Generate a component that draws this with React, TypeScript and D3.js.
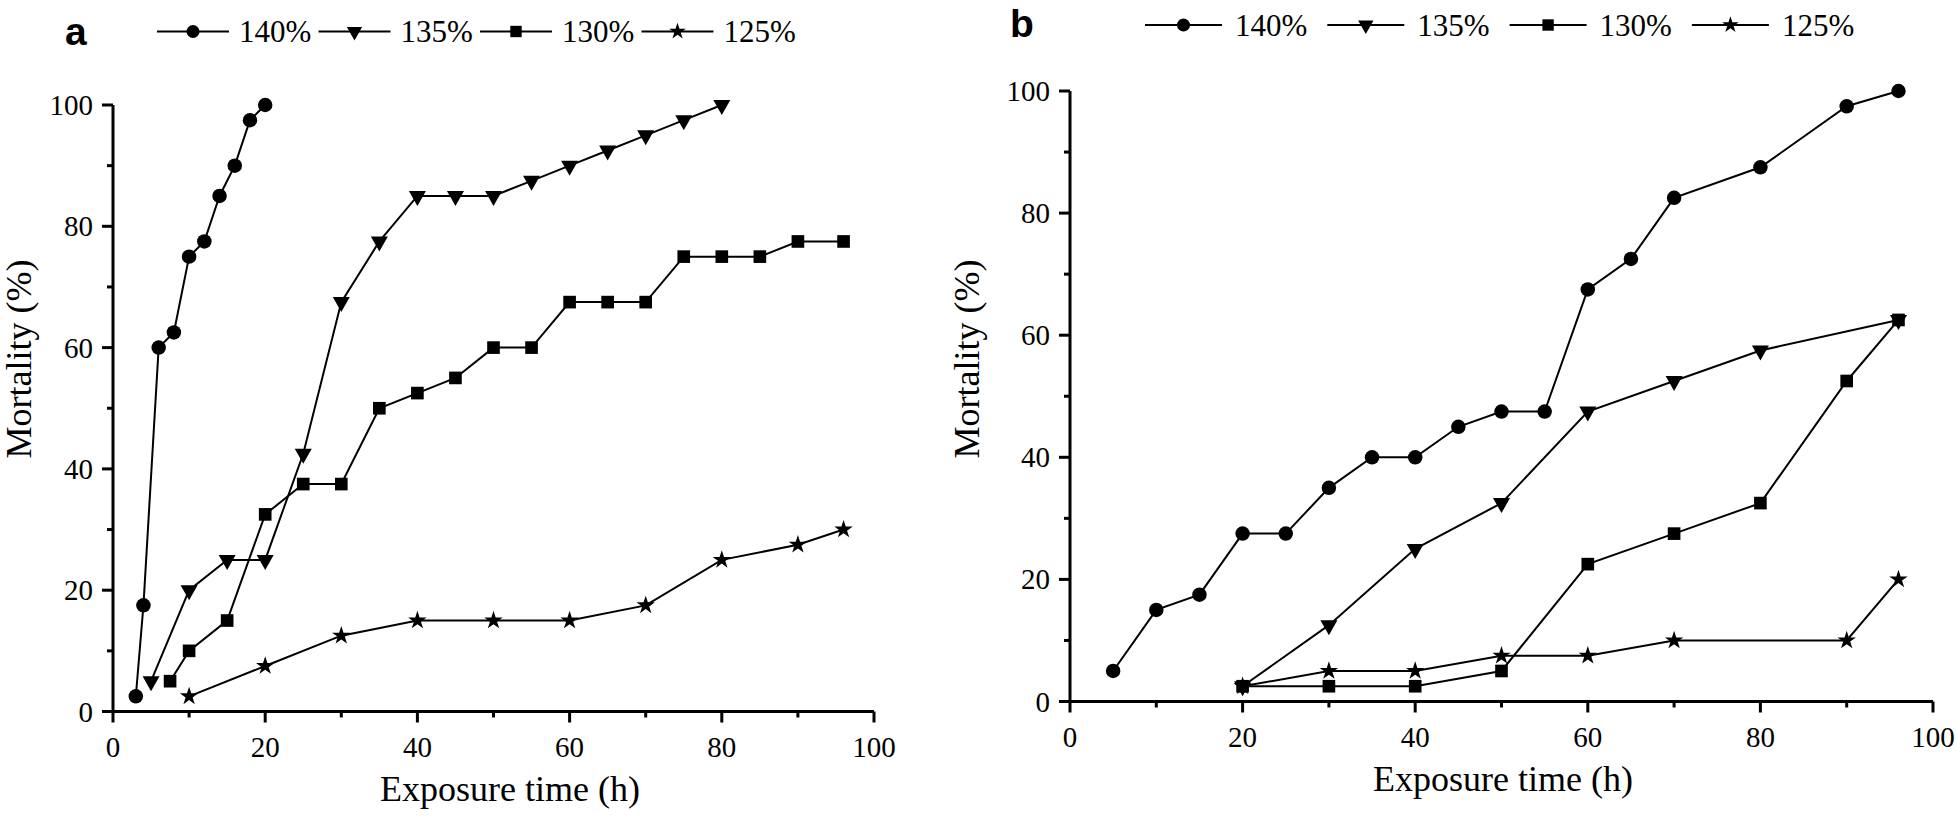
import React from "react";
import * as d3 from "d3";

// ---------- data ----------
const seriesLabels = ["140%", "135%", "130%", "125%"];
const seriesSymbols = ["circle", "triangle", "square", "star"];

// panel a
const xA140 = [3, 4, 6, 8, 10, 12, 14, 16, 18, 20];
const yA140 = [2.5, 17.5, 60, 62.5, 75, 77.5, 85, 90, 97.5, 100];
const xA135 = [5, 10, 15, 20, 25, 30, 35, 40, 45, 50, 55, 60, 65, 70, 75, 80];
const yA135 = [5, 20, 25, 25, 42.5, 67.5, 77.5, 85, 85, 85, 87.5, 90, 92.5, 95, 97.5, 100];
const xA130 = [7.5, 10, 15, 20, 25, 30, 35, 40, 45, 50, 55, 60, 65, 70, 75, 80, 85, 90, 96];
const yA130 = [5, 10, 15, 32.5, 37.5, 37.5, 50, 52.5, 55, 60, 60, 67.5, 67.5, 67.5, 75, 75, 75, 77.5, 77.5];
const xA125 = [10, 20, 30, 40, 50, 60, 70, 80, 90, 96];
const yA125 = [2.5, 7.5, 12.5, 15, 15, 15, 17.5, 25, 27.5, 30];

// panel b
const xB140 = [5, 10, 15, 20, 25, 30, 35, 40, 45, 50, 55, 60, 65, 70, 80, 90, 96];
const yB140 = [5, 15, 17.5, 27.5, 27.5, 35, 40, 40, 45, 47.5, 47.5, 67.5, 72.5, 82.5, 87.5, 97.5, 100];
const xB135 = [20, 30, 40, 50, 60, 70, 80, 96];
const yB135 = [2.5, 12.5, 25, 32.5, 47.5, 52.5, 57.5, 62.5];
const xB130 = [20, 30, 40, 50, 60, 70, 80, 90, 96];
const yB130 = [2.5, 2.5, 2.5, 5, 22.5, 27.5, 32.5, 52.5, 62.5];
const xB125 = [20, 30, 40, 50, 60, 70, 90, 96];
const yB125 = [2.5, 5, 5, 7.5, 7.5, 10, 10, 20];

const majorTicks = [0, 20, 40, 60, 80, 100];
const minorTicks = [10, 30, 50, 70, 90];
const xTitle = "Exposure time (h)";
const yTitle = "Mortality (%)";

// ---------- styling ----------
const SERIF = '"Liberation Serif", "Times New Roman", Times, serif';
const SANS = '"Liberation Sans", Arial, Helvetica, sans-serif';

function markerPath(kind: string): string {
  if (kind === "triangle") return "M-8.5,-5L8.5,-5L0,10Z";
  if (kind === "circle") return d3.symbol(d3.symbolCircle, 165)() as string;
  if (kind === "square") return d3.symbol(d3.symbolSquare, 160)() as string;
  return d3.symbol(d3.symbolStar, 105)() as string;
}

type PanelProps = {
  letter: string;
  xs: number[][];
  ys: number[][];
  x0: number; x1: number; y0: number; y1: number;
  letterX: number; letterY: number;
  legX: number; legStep: number; legY: number; legLine: number; legText: number;
  yTitleX: number; yTitleY: number;
  xTitleX: number; xTitleY: number;
};

function Panel(p: PanelProps) {
  const x = d3.scaleLinear().domain([0, 100]).range([p.x0, p.x1]);
  const y = d3.scaleLinear().domain([0, 100]).range([p.y0, p.y1]);
  const line = d3.line<[number, number]>().x((d) => x(d[0])).y((d) => y(d[1]));
  return (
    <g>
      <text x={p.letterX} y={p.letterY} fontFamily={SANS} fontWeight="bold" fontSize={39}>{p.letter}</text>
      {/* legend */}
      {seriesLabels.map((lab, i) => {
        const lx = p.legX + i * p.legStep;
        return (
          <g key={lab}>
            <line x1={lx} x2={lx + p.legLine} y1={p.legY} y2={p.legY} stroke="#000" strokeWidth={2} />
            <path d={markerPath(seriesSymbols[i])} transform={`translate(${lx + p.legLine / 2},${p.legY}) scale(0.9)`} fill="#000" />
            <text x={lx + p.legText} y={p.legY + 10.5} fontFamily={SERIF} fontSize={31}>{lab}</text>
          </g>
        );
      })}
      {/* axes */}
      <line x1={p.x0} x2={p.x1} y1={p.y0} y2={p.y0} stroke="#000" strokeWidth={3} />
      <line x1={p.x0} x2={p.x0} y1={p.y0} y2={p.y1} stroke="#000" strokeWidth={3} />
      {majorTicks.map((t) => (
        <g key={"mx" + t}>
          <line x1={x(t)} x2={x(t)} y1={p.y0} y2={p.y0 + 11} stroke="#000" strokeWidth={3} />
          <text x={x(t)} y={p.y0 + 45} textAnchor="middle" fontFamily={SERIF} fontSize={29}>{t}</text>
          <line x1={p.x0 - 11} x2={p.x0} y1={y(t)} y2={y(t)} stroke="#000" strokeWidth={3} />
          <text x={p.x0 - 20} y={y(t) + 10} textAnchor="end" fontFamily={SERIF} fontSize={29}>{t}</text>
        </g>
      ))}
      {minorTicks.map((t) => (
        <g key={"mn" + t}>
          <line x1={x(t)} x2={x(t)} y1={p.y0} y2={p.y0 + 6} stroke="#000" strokeWidth={3} />
          <line x1={p.x0 - 6} x2={p.x0} y1={y(t)} y2={y(t)} stroke="#000" strokeWidth={3} />
        </g>
      ))}
      <text x={p.xTitleX} y={p.xTitleY} textAnchor="middle" fontFamily={SERIF} fontSize={36}>{xTitle}</text>
      <text transform={`translate(${p.yTitleX},${p.yTitleY}) rotate(-90)`} textAnchor="middle" fontFamily={SERIF} fontSize={36}>{yTitle}</text>
      {/* series */}
      {p.xs.map((xsArr, i) => {
        const pts: [number, number][] = xsArr.map((v, j) => [v, p.ys[i][j]]);
        return (
          <g key={"s" + i}>
            <path d={line(pts) as string} fill="none" stroke="#000" strokeWidth={2} />
            {pts.map((d, j) => (
              <path key={j} d={markerPath(seriesSymbols[i])} transform={`translate(${x(d[0])},${y(d[1])})`} fill="#000" />
            ))}
          </g>
        );
      })}
    </g>
  );
}

export default function App() {
  return (
    <svg width={1956} height={816} style={{ position: "absolute", left: 0, top: 0, background: "#fff" }}>
      <rect width={1956} height={816} fill="#fff" />
      <Panel
        letter="a"
        xs={[xA140, xA135, xA130, xA125]}
        ys={[yA140, yA135, yA130, yA125]}
        x0={113} x1={874} y0={711.5} y1={105}
        letterX={65} letterY={45}
        legX={157} legStep={161.5} legY={31.5} legLine={72} legText={82}
        yTitleX={31} yTitleY={359}
        xTitleX={510} xTitleY={801}
      />
      <Panel
        letter="b"
        xs={[xB140, xB135, xB130, xB125]}
        ys={[yB140, yB135, yB130, yB125]}
        x0={1070} x1={1933} y0={701.5} y1={91}
        letterX={1010} letterY={37}
        legX={1145} legStep={182.3} legY={25} legLine={77} legText={90}
        yTitleX={979} yTitleY={359}
        xTitleX={1503} xTitleY={791}
      />
    </svg>
  );
}
